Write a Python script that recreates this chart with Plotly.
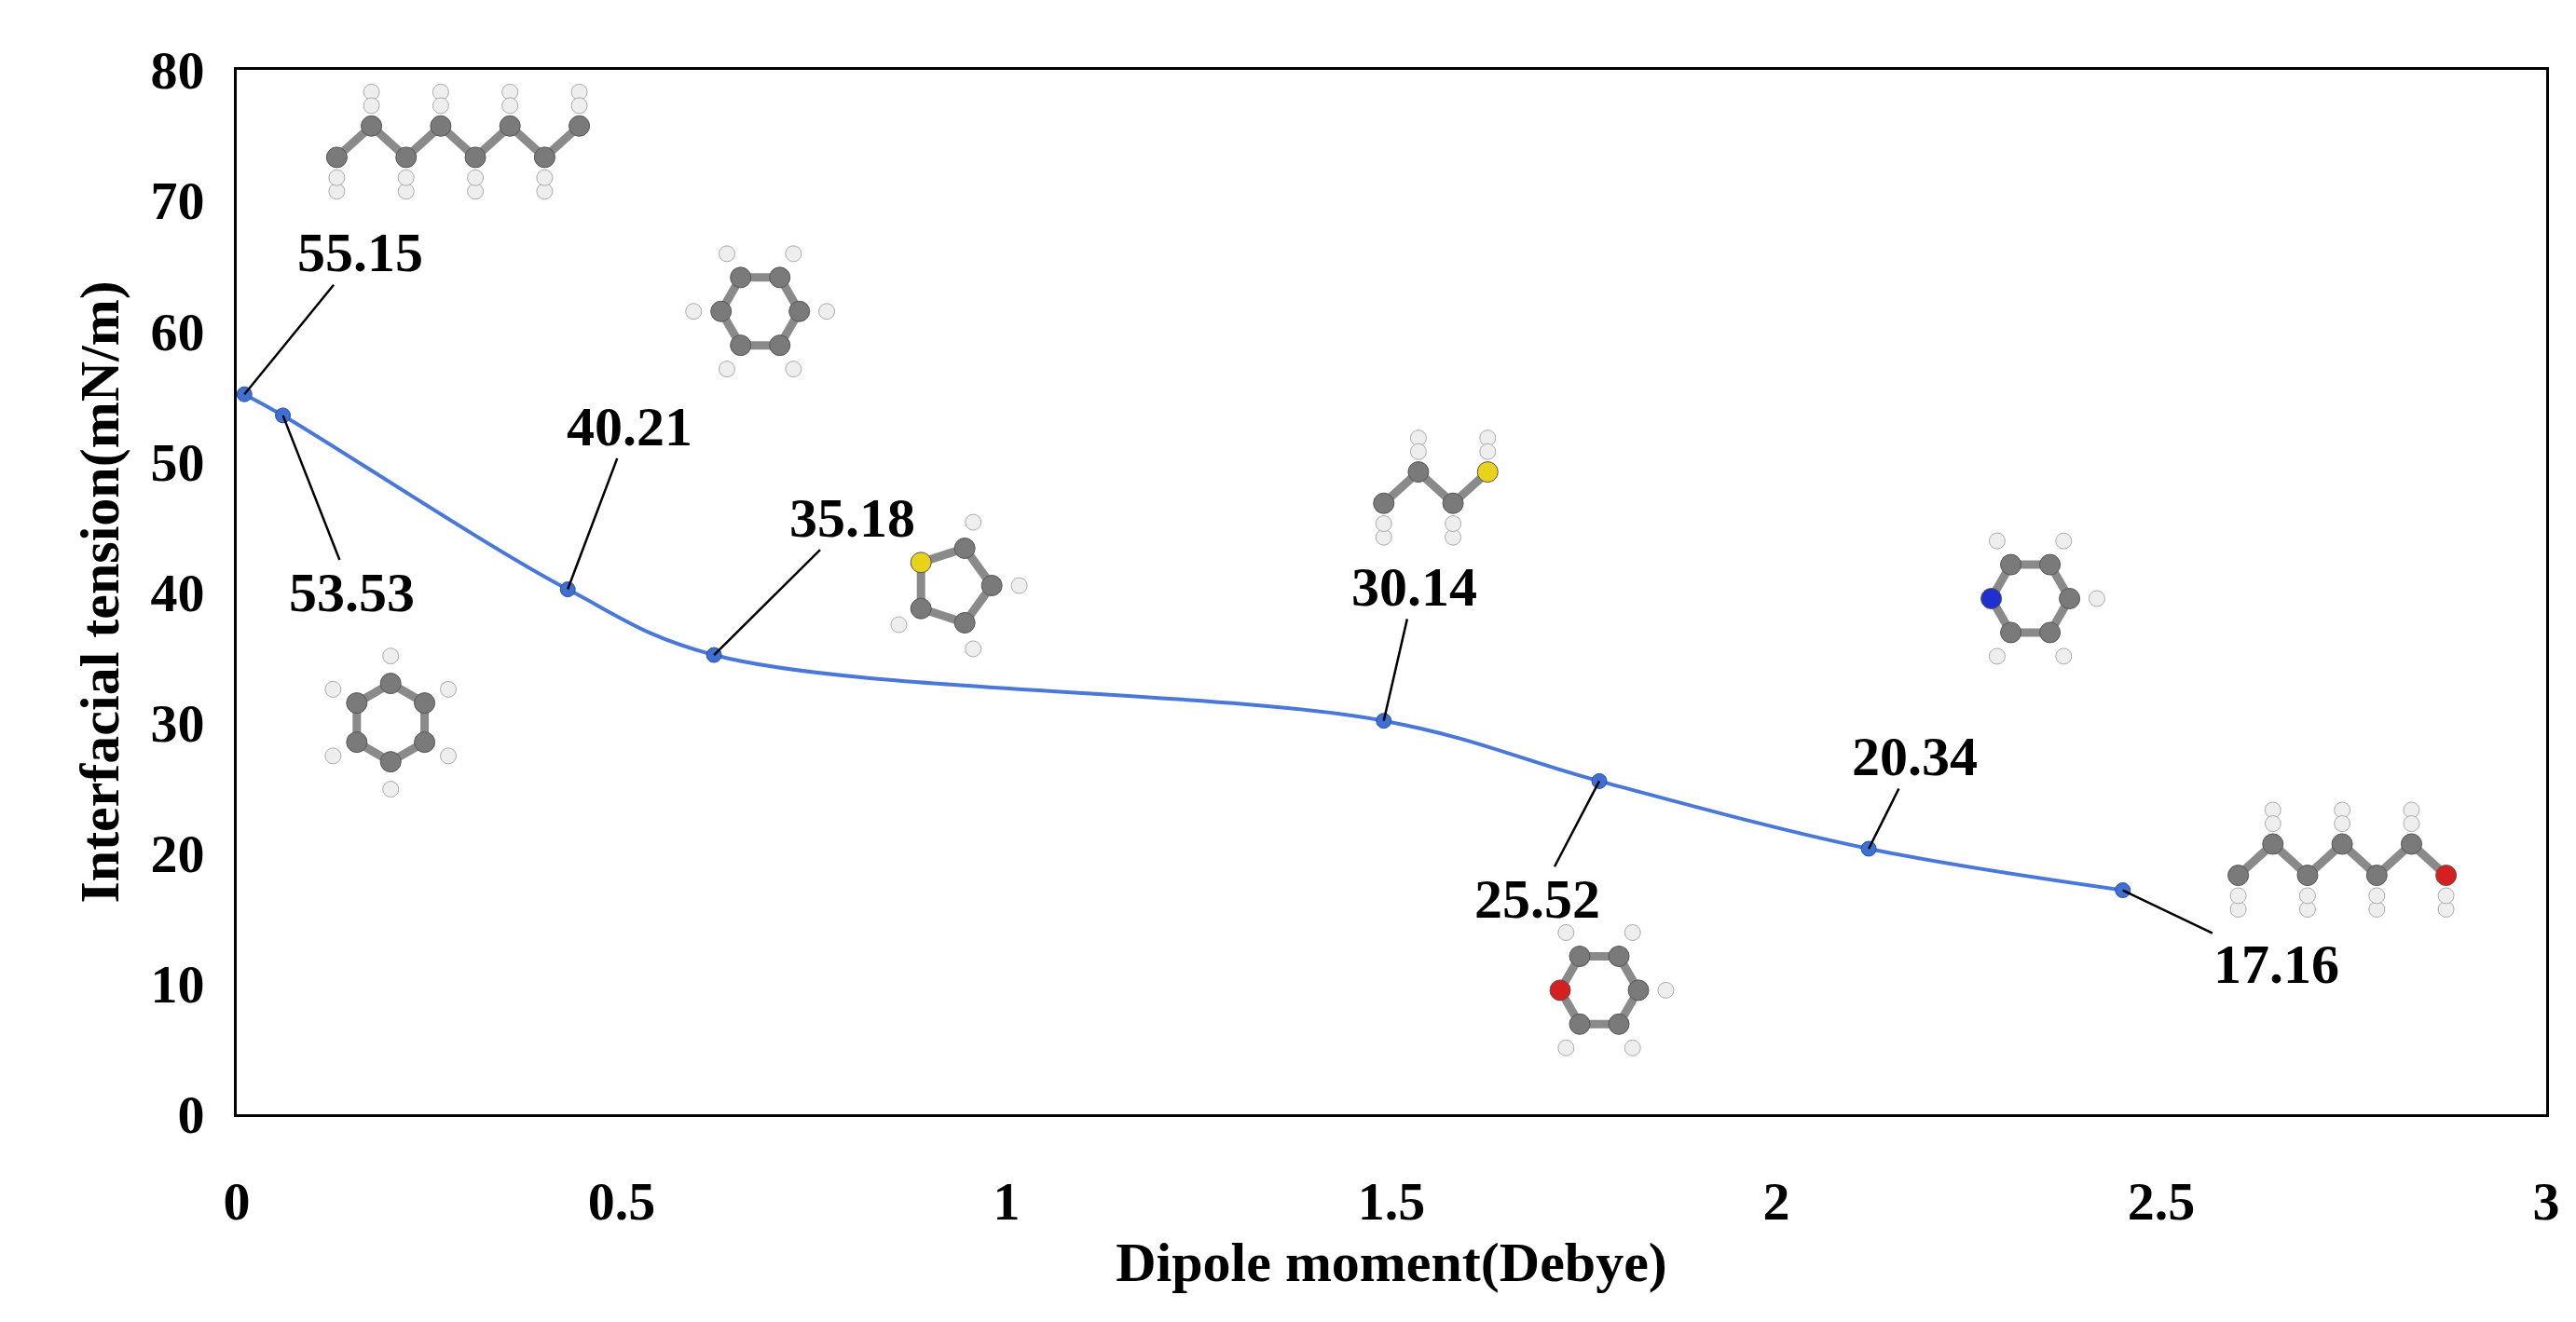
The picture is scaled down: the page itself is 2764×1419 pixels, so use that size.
import math
import plotly.graph_objects as go

dipole = [0.01, 0.06, 0.43, 0.62, 1.49, 1.77, 2.12, 2.45]
tension = [55.15, 53.53, 40.21, 35.18, 30.14, 25.52, 20.34, 17.16]
labels = ["55.15", "53.53", "40.21", "35.18", "30.14", "25.52", "20.34", "17.16"]
label_x = [0.16, 0.15, 0.51, 0.80, 1.53, 1.69, 2.18, 2.65]
label_y = [66.0, 40.0, 52.7, 45.7, 40.4, 16.5, 27.4, 11.5]

FONT = "Liberation Serif"
XU, YU = 826.0, 14.0  # px per data unit, for round molecule sketches

fig = go.Figure()


def ring(cx, cy, n=6, r=42, hetero=None, h=True, rot=90):
    pts = []
    for i in range(n):
        t = math.radians(rot + 360 * i / n)
        pts.append((cx + r * math.cos(t) / XU, cy + r * math.sin(t) / YU))
    colors = ["#7a7a7a"] * n
    if hetero:
        colors[hetero[0]] = hetero[1]
    xs, ys = [], []
    for a, b in zip(pts, pts[1:] + pts[:1]):
        xs += [a[0], b[0], None]
        ys += [a[1], b[1], None]
    fig.add_scatter(x=xs, y=ys, mode="lines", line=dict(color="#8a8a8a", width=9),
                    hoverinfo="skip", showlegend=False)
    if h:
        hx, hy = [], []
        for i in range(n):
            if hetero and i == hetero[0]:
                continue
            t = math.radians(rot + 360 * i / n)
            hx.append(cx + 1.7 * r * math.cos(t) / XU)
            hy.append(cy + 1.7 * r * math.sin(t) / YU)
        fig.add_scatter(x=hx, y=hy, mode="markers", hoverinfo="skip", showlegend=False,
                        marker=dict(color="#eeeeee", size=17, line=dict(color="#aaaaaa", width=1)))
    fig.add_scatter(x=[p[0] for p in pts], y=[p[1] for p in pts], mode="markers",
                    hoverinfo="skip", showlegend=False,
                    marker=dict(color=colors, size=22, line=dict(color="#555555", width=1)))


def chain(x0, y0, n, step=0.045, dy=1.2, end=None):
    xs = [x0 + i * step for i in range(n)]
    ys = [y0 + (dy if i % 2 else -dy) for i in range(n)]
    fig.add_scatter(x=xs, y=ys, mode="lines", line=dict(color="#8a8a8a", width=9),
                    hoverinfo="skip", showlegend=False)
    hx = [x for x in xs for _ in (0, 1)]
    hy = [y + (s * 2.6 if i % 2 else -s * 2.6) for i, y in enumerate(ys) for s in (1, 0.6)]
    fig.add_scatter(x=hx, y=hy, mode="markers", hoverinfo="skip", showlegend=False,
                    marker=dict(color="#eeeeee", size=17, line=dict(color="#aaaaaa", width=1)))
    colors = ["#7a7a7a"] * n
    if end:
        colors[-1] = end
    fig.add_scatter(x=xs, y=ys, mode="markers", hoverinfo="skip", showlegend=False,
                    marker=dict(color=colors, size=22, line=dict(color="#555555", width=1)))


# molecule sketches
chain(0.13, 74.5, 8)
ring(0.2, 30.0)
ring(0.68, 61.5, rot=0)
ring(0.93, 40.5, n=5, hetero=(2, "#e8d21a"), rot=0)
ring(1.77, 9.5, hetero=(3, "#d62020"), rot=0)
ring(2.33, 39.5, hetero=(3, "#2030d0"), rot=0)
chain(1.49, 48.0, 4, end="#e8d21a")
chain(2.6, 19.5, 7, end="#d62020")

fig.add_scatter(x=dipole, y=tension, mode="lines+markers", line_shape="spline",
                line=dict(color="#4a78d8", width=4),
                marker=dict(color="#3f6fd0", size=16, line=dict(color="#2a50a0", width=1)),
                showlegend=False)

for x, y, lx, ly, t in zip(dipole, tension, label_x, label_y, labels):
    fig.add_annotation(x=x, y=y, ax=lx, ay=ly, axref="x", ayref="y", text=f"<b>{t}</b>",
                       showarrow=True, arrowhead=0, arrowwidth=2.5, arrowcolor="black",
                       font=dict(family=FONT, size=60, color="black"))

fig.update_layout(
    width=2764, height=1419, plot_bgcolor="white", paper_bgcolor="white",
    margin=dict(l=246, r=40, t=67, b=231),
    font=dict(family=FONT, color="black"),
)
fig.update_xaxes(range=[0, 3], dtick=0.5, showgrid=False, zeroline=False, showline=True,
                 linecolor="black", linewidth=3, mirror=True, ticks="", ticklabelstandoff=40,
                 tickfont=dict(size=58, family=FONT, weight="bold"),
                 title=dict(text="<b>Dipole moment(Debye)</b>", font=dict(size=60), standoff=0))
fig.update_yaxes(range=[0, 80], dtick=10, showgrid=False, zeroline=False, showline=True,
                 linecolor="black", linewidth=3, mirror=True, ticks="", ticklabelstandoff=20,
                 tickfont=dict(size=58, family=FONT, weight="bold"),
                 title=dict(text="<b>Interfacial tension(mN/m)</b>", font=dict(size=60), standoff=15))

fig.write_html("out.html")
